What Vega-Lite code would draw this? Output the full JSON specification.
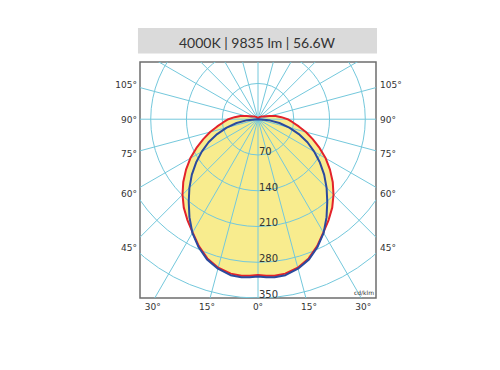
{
  "$schema": "https://vega.github.io/schema/vega-lite/v6.json",
  "width": 236,
  "height": 236,
  "autosize": {"type": "none"},
  "padding": {"left": 140, "top": 62, "right": 124, "bottom": 72},
  "background": "white",
  "config": {"view": {"stroke": "#6e6e6e", "strokeWidth": 1.5}, "text": {"font": "DejaVu Sans", "color": "#333333"}},
  "datasets": {
    "curves": [
      {"curve": "C0-C180", "i": 1, "x": 0, "y": 0},
      {"curve": "C0-C180", "i": 2, "x": 0.5, "y": 1.9},
      {"curve": "C0-C180", "i": 3, "x": 2.0, "y": 3.5},
      {"curve": "C0-C180", "i": 4, "x": 3.9, "y": 4.6},
      {"curve": "C0-C180", "i": 5, "x": 6.1, "y": 5.1},
      {"curve": "C0-C180", "i": 6, "x": 9.5, "y": 5.5},
      {"curve": "C0-C180", "i": 7, "x": 16.0, "y": 5.8},
      {"curve": "C0-C180", "i": 8, "x": 23.2, "y": 6.2},
      {"curve": "C0-C180", "i": 9, "x": 34.5, "y": 6.1},
      {"curve": "C0-C180", "i": 10, "x": 45.8, "y": 4.0},
      {"curve": "C0-C180", "i": 11, "x": 58, "y": 0},
      {"curve": "C0-C180", "i": 12, "x": 67.7, "y": -5.9},
      {"curve": "C0-C180", "i": 13, "x": 79.8, "y": -14.1},
      {"curve": "C0-C180", "i": 14, "x": 93.7, "y": -25.1},
      {"curve": "C0-C180", "i": 15, "x": 107.1, "y": -39.0},
      {"curve": "C0-C180", "i": 16, "x": 120.5, "y": -56.2},
      {"curve": "C0-C180", "i": 17, "x": 132.5, "y": -76.5},
      {"curve": "C0-C180", "i": 18, "x": 140.9, "y": -98.7},
      {"curve": "C0-C180", "i": 19, "x": 146.3, "y": -122.8},
      {"curve": "C0-C180", "i": 20, "x": 147.8, "y": -147.8},
      {"curve": "C0-C180", "i": 21, "x": 145.3, "y": -173.1},
      {"curve": "C0-C180", "i": 22, "x": 138.2, "y": -197.4},
      {"curve": "C0-C180", "i": 23, "x": 128.0, "y": -221.7},
      {"curve": "C0-C180", "i": 24, "x": 115.8, "y": -248.3},
      {"curve": "C0-C180", "i": 25, "x": 99.2, "y": -272.5},
      {"curve": "C0-C180", "i": 26, "x": 77.9, "y": -290.7},
      {"curve": "C0-C180", "i": 27, "x": 53.3, "y": -302.3},
      {"curve": "C0-C180", "i": 28, "x": 32.2, "y": -306.3},
      {"curve": "C0-C180", "i": 29, "x": 16.1, "y": -306.6},
      {"curve": "C0-C180", "i": 30, "x": 0, "y": -305},
      {"curve": "C0-C180", "i": 31, "x": -16.1, "y": -306.6},
      {"curve": "C0-C180", "i": 32, "x": -32.2, "y": -306.3},
      {"curve": "C0-C180", "i": 33, "x": -53.3, "y": -302.3},
      {"curve": "C0-C180", "i": 34, "x": -77.9, "y": -290.7},
      {"curve": "C0-C180", "i": 35, "x": -99.2, "y": -272.5},
      {"curve": "C0-C180", "i": 36, "x": -115.8, "y": -248.3},
      {"curve": "C0-C180", "i": 37, "x": -128.0, "y": -221.7},
      {"curve": "C0-C180", "i": 38, "x": -138.2, "y": -197.4},
      {"curve": "C0-C180", "i": 39, "x": -145.3, "y": -173.1},
      {"curve": "C0-C180", "i": 40, "x": -147.8, "y": -147.8},
      {"curve": "C0-C180", "i": 41, "x": -146.3, "y": -122.8},
      {"curve": "C0-C180", "i": 42, "x": -140.9, "y": -98.7},
      {"curve": "C0-C180", "i": 43, "x": -132.5, "y": -76.5},
      {"curve": "C0-C180", "i": 44, "x": -120.5, "y": -56.2},
      {"curve": "C0-C180", "i": 45, "x": -107.1, "y": -39.0},
      {"curve": "C0-C180", "i": 46, "x": -93.7, "y": -25.1},
      {"curve": "C0-C180", "i": 47, "x": -79.8, "y": -14.1},
      {"curve": "C0-C180", "i": 48, "x": -67.7, "y": -5.9},
      {"curve": "C0-C180", "i": 49, "x": -58, "y": 0},
      {"curve": "C0-C180", "i": 50, "x": -45.8, "y": 4.0},
      {"curve": "C0-C180", "i": 51, "x": -34.5, "y": 6.1},
      {"curve": "C0-C180", "i": 52, "x": -23.2, "y": 6.2},
      {"curve": "C0-C180", "i": 53, "x": -16.0, "y": 5.8},
      {"curve": "C0-C180", "i": 54, "x": -9.5, "y": 5.5},
      {"curve": "C0-C180", "i": 55, "x": -6.1, "y": 5.1},
      {"curve": "C0-C180", "i": 56, "x": -3.9, "y": 4.6},
      {"curve": "C0-C180", "i": 57, "x": -2.0, "y": 3.5},
      {"curve": "C0-C180", "i": 58, "x": -0.5, "y": 1.9},
      {"curve": "C0-C180", "i": 59, "x": 0, "y": 0},
      {"curve": "C90-C270", "i": 1, "x": 0, "y": 0},
      {"curve": "C90-C270", "i": 2, "x": 21.1, "y": -1.8},
      {"curve": "C90-C270", "i": 3, "x": 41.9, "y": -7.4},
      {"curve": "C90-C270", "i": 4, "x": 61.3, "y": -16.4},
      {"curve": "C90-C270", "i": 5, "x": 79.9, "y": -29.1},
      {"curve": "C90-C270", "i": 6, "x": 96.8, "y": -45.1},
      {"curve": "C90-C270", "i": 7, "x": 110.0, "y": -63.5},
      {"curve": "C90-C270", "i": 8, "x": 121.2, "y": -84.9},
      {"curve": "C90-C270", "i": 9, "x": 129.5, "y": -108.6},
      {"curve": "C90-C270", "i": 10, "x": 134.3, "y": -134.3},
      {"curve": "C90-C270", "i": 11, "x": 135.6, "y": -161.6},
      {"curve": "C90-C270", "i": 12, "x": 134.2, "y": -191.7},
      {"curve": "C90-C270", "i": 13, "x": 128.5, "y": -222.6},
      {"curve": "C90-C270", "i": 14, "x": 116.6, "y": -250.1},
      {"curve": "C90-C270", "i": 15, "x": 99.9, "y": -274.4},
      {"curve": "C90-C270", "i": 16, "x": 78.4, "y": -292.7},
      {"curve": "C90-C270", "i": 17, "x": 53.8, "y": -305.3},
      {"curve": "C90-C270", "i": 18, "x": 32.5, "y": -309.3},
      {"curve": "C90-C270", "i": 19, "x": 16.2, "y": -309.6},
      {"curve": "C90-C270", "i": 20, "x": 0, "y": -308},
      {"curve": "C90-C270", "i": 21, "x": -16.2, "y": -309.6},
      {"curve": "C90-C270", "i": 22, "x": -32.5, "y": -309.3},
      {"curve": "C90-C270", "i": 23, "x": -53.8, "y": -305.3},
      {"curve": "C90-C270", "i": 24, "x": -78.4, "y": -292.7},
      {"curve": "C90-C270", "i": 25, "x": -99.9, "y": -274.4},
      {"curve": "C90-C270", "i": 26, "x": -116.6, "y": -250.1},
      {"curve": "C90-C270", "i": 27, "x": -128.5, "y": -222.6},
      {"curve": "C90-C270", "i": 28, "x": -134.2, "y": -191.7},
      {"curve": "C90-C270", "i": 29, "x": -135.6, "y": -161.6},
      {"curve": "C90-C270", "i": 30, "x": -134.3, "y": -134.3},
      {"curve": "C90-C270", "i": 31, "x": -129.5, "y": -108.6},
      {"curve": "C90-C270", "i": 32, "x": -121.2, "y": -84.9},
      {"curve": "C90-C270", "i": 33, "x": -110.0, "y": -63.5},
      {"curve": "C90-C270", "i": 34, "x": -96.8, "y": -45.1},
      {"curve": "C90-C270", "i": 35, "x": -79.9, "y": -29.1},
      {"curve": "C90-C270", "i": 36, "x": -61.3, "y": -16.4},
      {"curve": "C90-C270", "i": 37, "x": -41.9, "y": -7.4},
      {"curve": "C90-C270", "i": 38, "x": -21.1, "y": -1.8},
      {"curve": "C90-C270", "i": 39, "x": 0, "y": 0}
    ],
    "spokes": [
      {"x": 0, "y": 700, "x2": 0, "y2": -700},
      {"x": -181.2, "y": 676.1, "x2": 181.2, "y2": -676.1},
      {"x": -350, "y": 606.2, "x2": 350, "y2": -606.2},
      {"x": -495, "y": 495, "x2": 495, "y2": -495},
      {"x": -606.2, "y": 350, "x2": 606.2, "y2": -350},
      {"x": -676.1, "y": 181.2, "x2": 676.1, "y2": -181.2},
      {"x": -700, "y": 0, "x2": 700, "y2": 0},
      {"x": -676.1, "y": -181.2, "x2": 676.1, "y2": 181.2},
      {"x": -606.2, "y": -350, "x2": 606.2, "y2": 350},
      {"x": -495, "y": -495, "x2": 495, "y2": 495},
      {"x": -350, "y": -606.2, "x2": 350, "y2": 606.2},
      {"x": -181.2, "y": -676.1, "x2": 181.2, "y2": 676.1}
    ],
    "rings": [
      {"r": 70, "ry": -70, "label": "70"},
      {"r": 140, "ry": -140, "label": "140"},
      {"r": 210, "ry": -210, "label": "210"},
      {"r": 280, "ry": -280, "label": "280"},
      {"r": 350, "ry": -350, "label": "350"}
    ],
    "sideLabels": [
      {"label": "105°", "y": 66},
      {"label": "90°", "y": -1.5},
      {"label": "75°", "y": -69},
      {"label": "60°", "y": -147},
      {"label": "45°", "y": -252}
    ],
    "bottomLabels": [
      {"label": "30°", "x": -206},
      {"label": "15°", "x": -100},
      {"label": "0°", "x": 0},
      {"label": "15°", "x": 100},
      {"label": "30°", "x": 206}
    ],
    "title": [{"label": "4000K | 9835 lm | 56.6W"}]
  },
  "layer": [
    {
      "data": {"name": "curves"},
      "mark": {"type": "line", "fill": "#f8ec8e", "stroke": "#f8ec8e", "strokeWidth": 1, "interpolate": "linear", "clip": true},
      "encoding": {
        "x": {"field": "x", "type": "quantitative", "scale": {"domain": [-231, 231], "nice": false, "zero": false}, "axis": null},
        "y": {"field": "y", "type": "quantitative", "scale": {"domain": [-350, 112], "nice": false, "zero": false}, "axis": null},
        "detail": {"field": "curve"},
        "order": {"field": "i", "type": "quantitative"}
      }
    },
    {
      "data": {"name": "spokes"},
      "mark": {"type": "rule", "stroke": "#74c8dc", "strokeWidth": 1, "clip": true},
      "encoding": {
        "x": {"field": "x", "type": "quantitative", "scale": {"domain": [-231, 231], "nice": false, "zero": false}, "axis": null},
        "y": {"field": "y", "type": "quantitative", "scale": {"domain": [-350, 112], "nice": false, "zero": false}, "axis": null},
        "x2": {"field": "x2"},
        "y2": {"field": "y2"}
      }
    },
    {
      "data": {"name": "rings"},
      "mark": {"type": "point", "shape": "circle", "filled": false, "fill": null, "stroke": "#74c8dc", "strokeWidth": 1, "opacity": 1, "clip": true},
      "encoding": {
        "x": {"datum": 0, "type": "quantitative", "scale": {"domain": [-231, 231], "nice": false, "zero": false}, "axis": null},
        "y": {"datum": 0, "type": "quantitative", "scale": {"domain": [-350, 112], "nice": false, "zero": false}, "axis": null},
        "size": {"field": "r", "type": "quantitative", "scale": {"type": "pow", "exponent": 2, "domain": [0, 350], "range": [0, 127876], "zero": true}, "legend": null}
      }
    },
    {
      "data": {"name": "curves"},
      "mark": {"type": "line", "strokeWidth": 2, "interpolate": "linear", "strokeJoin": "round", "clip": true},
      "encoding": {
        "x": {"field": "x", "type": "quantitative", "scale": {"domain": [-231, 231], "nice": false, "zero": false}, "axis": null},
        "y": {"field": "y", "type": "quantitative", "scale": {"domain": [-350, 112], "nice": false, "zero": false}, "axis": null},
        "color": {"field": "curve", "type": "nominal", "scale": {"domain": ["C90-C270", "C0-C180"], "range": ["#2b4a9e", "#e3222b"]}, "legend": null},
        "order": {"field": "i", "type": "quantitative"}
      }
    },
    {
      "data": {"name": "rings"},
      "mark": {"type": "text", "align": "left", "baseline": "middle", "dx": 1, "dy": -3, "fontSize": 10, "color": "#333333"},
      "encoding": {
        "x": {"datum": 0, "type": "quantitative", "scale": {"domain": [-231, 231], "nice": false, "zero": false}, "axis": null},
        "y": {"field": "ry", "type": "quantitative", "scale": {"domain": [-350, 112], "nice": false, "zero": false}, "axis": null},
        "text": {"field": "label"}
      }
    },
    {
      "data": {"name": "sideLabels"},
      "mark": {"type": "text", "align": "right", "baseline": "middle", "dx": -3, "fontSize": 9, "color": "#333333"},
      "encoding": {
        "x": {"datum": -231, "type": "quantitative", "scale": {"domain": [-231, 231], "nice": false, "zero": false}, "axis": null},
        "y": {"field": "y", "type": "quantitative", "scale": {"domain": [-350, 112], "nice": false, "zero": false}, "axis": null},
        "text": {"field": "label"}
      }
    },
    {
      "data": {"name": "sideLabels"},
      "mark": {"type": "text", "align": "left", "baseline": "middle", "dx": 4, "fontSize": 9, "color": "#333333"},
      "encoding": {
        "x": {"datum": 231, "type": "quantitative", "scale": {"domain": [-231, 231], "nice": false, "zero": false}, "axis": null},
        "y": {"field": "y", "type": "quantitative", "scale": {"domain": [-350, 112], "nice": false, "zero": false}, "axis": null},
        "text": {"field": "label"}
      }
    },
    {
      "data": {"name": "bottomLabels"},
      "mark": {"type": "text", "align": "center", "baseline": "middle", "dy": 9, "fontSize": 9, "color": "#333333"},
      "encoding": {
        "x": {"field": "x", "type": "quantitative", "scale": {"domain": [-231, 231], "nice": false, "zero": false}, "axis": null},
        "y": {"datum": -350, "type": "quantitative", "scale": {"domain": [-350, 112], "nice": false, "zero": false}, "axis": null},
        "text": {"field": "label"}
      }
    },
    {
      "data": {"name": "title"},
      "mark": {"type": "text", "align": "right", "baseline": "bottom", "dx": -2, "dy": -2, "fontSize": 6, "color": "#333333", "text": "cd/klm"},
      "encoding": {
        "x": {"datum": 231, "type": "quantitative", "scale": {"domain": [-231, 231], "nice": false, "zero": false}, "axis": null},
        "y": {"datum": -350, "type": "quantitative", "scale": {"domain": [-350, 112], "nice": false, "zero": false}, "axis": null}
      }
    },
    {
      "data": {"name": "title"},
      "mark": {"type": "rect", "fill": "#dadada"},
      "encoding": {
        "x": {"datum": -235, "type": "quantitative", "scale": {"domain": [-231, 231], "nice": false, "zero": false}, "axis": null},
        "x2": {"datum": 233},
        "y": {"datum": 128.5, "type": "quantitative", "scale": {"domain": [-350, 112], "nice": false, "zero": false}, "axis": null},
        "y2": {"datum": 178.5}
      }
    },
    {
      "data": {"name": "title"},
      "mark": {"type": "text", "align": "center", "baseline": "alphabetic", "font": "Lato", "fontSize": 14, "color": "#333333"},
      "encoding": {
        "x": {"datum": -2, "type": "quantitative", "scale": {"domain": [-231, 231], "nice": false, "zero": false}, "axis": null},
        "y": {"datum": 139.5, "type": "quantitative", "scale": {"domain": [-350, 112], "nice": false, "zero": false}, "axis": null},
        "text": {"field": "label"}
      }
    }
  ]
}
